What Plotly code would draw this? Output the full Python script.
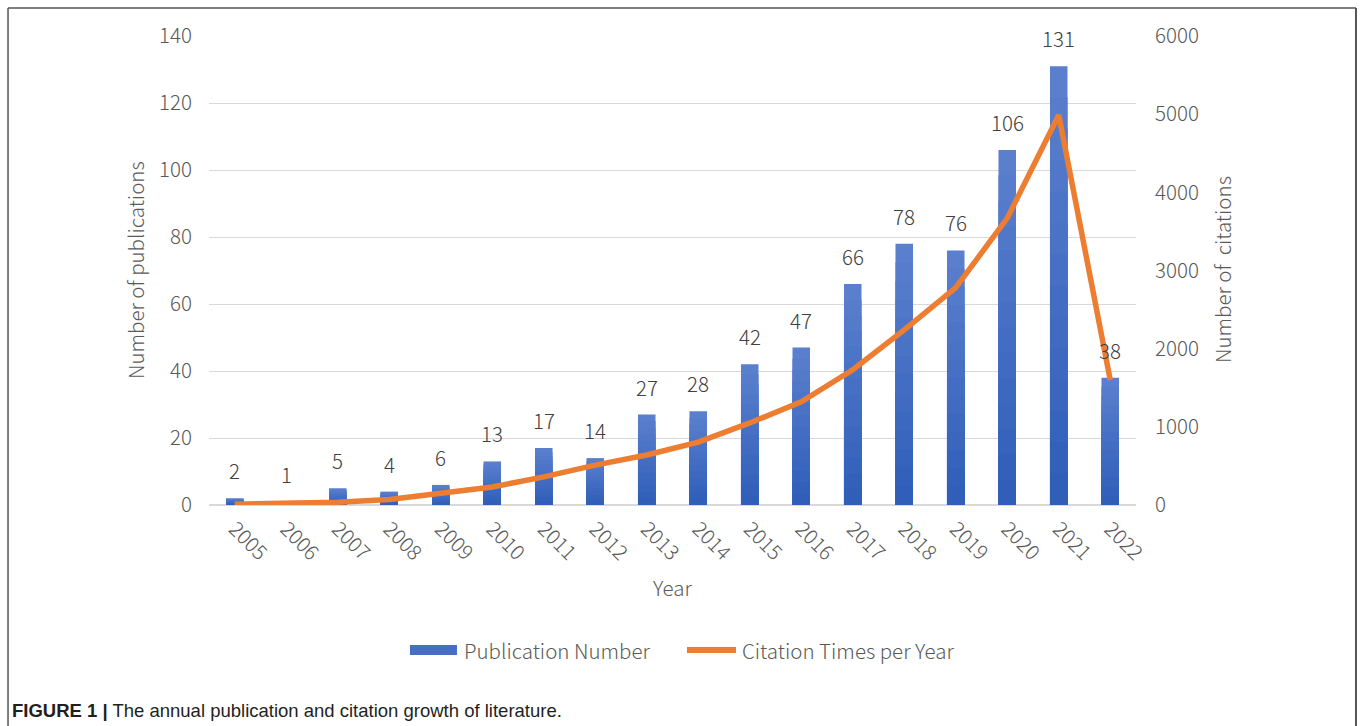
import plotly.graph_objects as go

# Annual publication counts and yearly citation totals
years = [2005, 2006, 2007, 2008, 2009, 2010, 2011, 2012, 2013,
         2014, 2015, 2016, 2017, 2018, 2019, 2020, 2021, 2022]
publications = [2, 1, 5, 4, 6, 13, 17, 14, 27, 28, 42, 47, 66, 78, 76, 106, 131, 38]
citations = [10, 15, 35, 70, 150, 230, 360, 510, 640, 805, 1050, 1320, 1730,
             2240, 2780, 3670, 4990, 1600]

pub_ticks = [0, 20, 40, 60, 80, 100, 120, 140]
cit_ticks = [0, 1000, 2000, 3000, 4000, 5000, 6000]

FONT = "Noto Sans CJK SC"
WEIGHT = 300
TICK_COLOR = "#595959"
LABEL_COLOR = "#404040"
TICK_SIZE = 20.5
LEGEND_SIZE = 20.5


def font(size, color=TICK_COLOR):
    return dict(family=FONT, size=size, color=color, weight=WEIGHT)


fig = go.Figure()

# Bars shaded light-at-top to dark-at-bottom: layered slices of each bar
top_rgb = (92, 128, 206)
bottom_rgb = (46, 93, 184)
steps = 14
for k in range(steps, 0, -1):
    frac = k / steps
    t = (k - 0.5) / steps
    rgb = tuple(round(b + (a - b) * t) for a, b in zip(top_rgb, bottom_rgb))
    fig.add_trace(go.Bar(
        x=years,
        y=[v * frac for v in publications],
        marker=dict(color="rgb(%d,%d,%d)" % rgb, line=dict(width=0)),
        width=0.34,
        showlegend=False,
        hoverinfo="skip" if k != steps else "x+y",
        name="Publication Number",
    ))

fig.add_trace(go.Scatter(
    x=years,
    y=citations,
    yaxis="y2",
    mode="lines",
    line=dict(color="#ED7D31", width=5.5),
    name="Citation Times per Year",
    showlegend=False,
))

annotations = []
# Value labels above each bar
for yr, v in zip(years, publications):
    annotations.append(dict(
        x=yr, y=v, xref="x", yref="y", text=str(v), showarrow=False,
        yanchor="bottom", yshift=11,
        font=font(TICK_SIZE, LABEL_COLOR),
    ))

# Axis titles
annotations += [
    dict(x=-0.0798, y=0.501, xref="paper", yref="paper", text="Number of publications",
         textangle=-90, showarrow=False, xanchor="center", yanchor="middle",
         font=font(TICK_SIZE)),
    dict(x=1.0928, y=0.501, xref="paper", yref="paper", text="Number of\u00a0 citations",
         textangle=-90, showarrow=False, xanchor="center", yanchor="middle",
         font=font(TICK_SIZE)),
    dict(x=0.5005, y=-0.1748, xref="paper", yref="paper", text="Year",
         showarrow=False, xanchor="center", yanchor="middle",
         font=font(TICK_SIZE)),
    # Legend entries
    dict(x=0.2729, y=-0.3092, xref="paper", yref="paper", text="Publication Number",
         showarrow=False, xanchor="left", yanchor="middle",
         font=font(LEGEND_SIZE)),
    dict(x=0.5728, y=-0.3092, xref="paper", yref="paper", text="Citation Times per Year",
         showarrow=False, xanchor="left", yanchor="middle",
         font=font(LEGEND_SIZE)),
    # Caption
    dict(x=-0.2147, y=-0.4392, xref="paper", yref="paper",
         text="<b>FIGURE 1 |</b> The annual publication and citation growth of literature.",
         showarrow=False, xanchor="left", yanchor="middle",
         font=dict(family="Liberation Sans", size=18.5, color="#231f20")),
]

shapes = [
    # Legend swatches
    dict(type="rect", xref="paper", yref="paper", x0=0.2168, x1=0.2675,
         y0=-0.3198, y1=-0.2985, line=dict(width=0), fillcolor="rgb(70,110,196)"),
    dict(type="line", xref="paper", yref="paper", x0=0.5156, x1=0.5685,
         y0=-0.3092, y1=-0.3092, line=dict(color="#ED7D31", width=6)),
    # Frame around the figure
    dict(type="line", xref="paper", yref="paper", x0=-0.2168, x1=-0.2168,
         y0=1.0597, y1=-0.52, line=dict(color="#555555", width=1.5)),
    dict(type="line", xref="paper", yref="paper", x0=1.2373, x1=1.2373,
         y0=1.0597, y1=-0.52, line=dict(color="#555555", width=2)),
    dict(type="line", xref="paper", yref="paper", x0=-0.2168, x1=1.2373,
         y0=1.0597, y1=1.0597, line=dict(color="#555555", width=1.5)),
]

fig.update_layout(
    width=1360, height=726,
    margin=dict(l=209, r=224, t=36, b=221),
    paper_bgcolor="white", plot_bgcolor="white",
    barmode="overlay",
    annotations=annotations,
    shapes=shapes,
    showlegend=False,
    xaxis=dict(
        range=[2004.5, 2022.5],
        tickvals=years, ticktext=[str(y) for y in years],
        tickangle=45,
        tickfont=font(TICK_SIZE),
        showline=False, showgrid=False, zeroline=False,
        ticks="outside", ticklen=3, tickcolor="white",
    ),
    yaxis=dict(
        range=[0, 140], tickvals=pub_ticks,
        tickfont=font(TICK_SIZE),
        showgrid=True, gridcolor="#d9d9d9", gridwidth=1,
        zeroline=True, zerolinecolor="#d9d9d9", zerolinewidth=1.5,
        showline=False, ticks="outside", ticklen=12, tickcolor="white",
    ),
    yaxis2=dict(
        range=[0, 6000], tickvals=cit_ticks, overlaying="y", side="right",
        tickfont=font(TICK_SIZE),
        showgrid=False, zeroline=False, showline=False,
        ticks="outside", ticklen=14, tickcolor="white",
    ),
)

fig.write_html("out.html")
